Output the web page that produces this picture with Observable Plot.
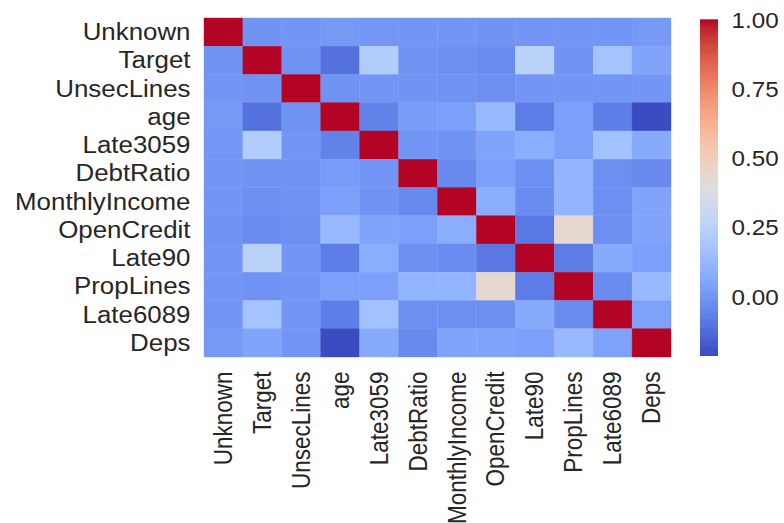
<!DOCTYPE html>
<html><head><meta charset="utf-8">
<script src="https://cdn.jsdelivr.net/npm/d3@7"></script>
<script src="https://cdn.jsdelivr.net/npm/@observablehq/plot@0.6"></script>
<style>
body{margin:0;background:#fff}
#wrap{position:relative;width:784px;height:523px;overflow:hidden;background:#fff}
#wrap svg{position:absolute;left:0;top:0}
</style>
</head><body><div id="wrap"></div>
<script>
const names = ["Unknown","Target","UnsecLines","age","Late3059","DebtRatio","MonthlyIncome","OpenCredit","Late90","PropLines","Late6089","Deps"];
const rowUnknown       = [1, -0.005, 0, 0.01, 0.005, 0, 0, -0.005, 0, 0, 0, 0.01];
const rowTarget        = [-0.005, 1, -0.01, -0.11, 0.22, -0.01, -0.02, -0.03, 0.25, -0.01, 0.17, 0.05];
const rowUnsecLines    = [0, -0.01, 1, -0.01, 0, -0.005, -0.01, -0.02, 0, 0, 0, 0];
const rowAge           = [0.01, -0.11, -0.01, 1, -0.06, 0.02, 0.03, 0.13, -0.08, 0.03, -0.07, -0.213];
const rowLate3059      = [0.005, 0.22, 0, -0.06, 1, 0, -0.005, 0.05, 0.08, 0.03, 0.16, 0.07];
const rowDebtRatio     = [0, -0.01, -0.005, 0.02, 0, 1, -0.04, 0.03, -0.02, 0.11, -0.02, -0.04];
const rowMonthlyIncome = [0, -0.02, -0.01, 0.03, -0.005, -0.04, 1, 0.08, -0.03, 0.11, -0.02, 0.05];
const rowOpenCredit    = [-0.005, -0.03, -0.02, 0.13, 0.05, 0.03, 0.08, 1, -0.09, 0.43, -0.02, 0.05];
const rowLate90        = [0, 0.25, 0, -0.08, 0.08, -0.02, -0.03, -0.09, 1, -0.08, 0.07, 0.03];
const rowPropLines     = [0, -0.01, 0, 0.03, 0.03, 0.11, 0.11, 0.43, -0.08, 1, -0.03, 0.13];
const rowLate6089      = [0, 0.17, 0, -0.07, 0.16, -0.02, -0.02, -0.02, 0.07, -0.03, 1, 0.04];
const rowDeps          = [0.01, 0.05, 0, -0.213, 0.07, -0.04, 0.05, 0.05, 0.03, 0.13, 0.04, 1];
const rows = [rowUnknown,rowTarget,rowUnsecLines,rowAge,rowLate3059,rowDebtRatio,rowMonthlyIncome,rowOpenCredit,rowLate90,rowPropLines,rowLate6089,rowDeps];
const colorbarTicks = [0, 0.25, 0.5, 0.75, 1];

// matplotlib "coolwarm" (Moreland) control colours
const coolwarm = ["rgb(59,76,192)","rgb(68,90,204)","rgb(77,104,215)","rgb(87,117,225)","rgb(98,130,234)","rgb(108,142,241)","rgb(119,154,247)","rgb(130,165,251)","rgb(141,176,254)","rgb(152,185,255)","rgb(163,194,255)","rgb(174,201,253)","rgb(184,208,249)","rgb(194,213,244)","rgb(204,217,238)","rgb(213,219,230)","rgb(221,221,221)","rgb(229,216,209)","rgb(236,211,197)","rgb(241,204,185)","rgb(245,196,173)","rgb(247,187,160)","rgb(247,177,148)","rgb(247,166,135)","rgb(244,154,123)","rgb(241,141,111)","rgb(236,127,99)","rgb(229,112,88)","rgb(222,96,77)","rgb(213,80,66)","rgb(203,62,56)","rgb(192,40,47)","rgb(180,4,38)"];

const cells = [];
rows.forEach((r, i) => r.forEach((v, j) => cells.push({row: names[i], col: names[j], value: v})));
const vmin = d3.min(cells, d => d.value);
const vmax = d3.max(cells, d => d.value);
const interp = d3.piecewise(d3.interpolateRgb, coolwarm);
const colorOpts = {type: "linear", domain: [vmin, vmax], interpolate: interp};

const font = '"Liberation Sans", Arial, Helvetica, sans-serif';
const ink = "#262626";

const heat = Plot.plot({
  width: 784, height: 523,
  marginLeft: 204, marginRight: 113, marginTop: 18, marginBottom: 166,
  style: {fontFamily: font, color: ink, background: "transparent", overflow: "visible"},
  x: {domain: names, padding: 0, round: false, label: null},
  y: {domain: names, padding: 0, round: false, label: null},
  color: colorOpts,
  marks: [
    Plot.cell(cells, {x: "col", y: "row", fill: "value", stroke: "value", strokeWidth: 0.4}),
    Plot.axisX({tickRotate: -90, tickSize: 0, tickPadding: 14, fontSize: 22.5, label: null}),
    Plot.axisY({tickSize: 0, tickPadding: 14, fontSize: 23, label: null})
  ]
});

// colour bar ramp (a gradient, not data)
const nSteps = 300;
const ramp = d3.range(nSteps).map(i => ({lo: vmin + (vmax - vmin) * i / nSteps, hi: vmin + (vmax - vmin) * (i + 1) / nSteps}));
const bar = Plot.plot({
  width: 784, height: 523,
  marginLeft: 700, marginRight: 66, marginTop: 20, marginBottom: 167,
  style: {fontFamily: font, color: ink, background: "transparent", overflow: "visible"},
  y: {domain: [vmin, vmax], label: null},
  color: colorOpts,
  marks: [
    Plot.rect(ramp, {y1: "lo", y2: d => d.hi + (vmax - vmin) / nSteps * 0.6, fill: "lo"}),
    Plot.axisY({anchor: "right", ticks: colorbarTicks, tickFormat: d3.format(".2f"), tickSize: 0, tickPadding: 13, fontSize: 22, label: null})
  ]
});

const wrap = document.getElementById("wrap");
wrap.appendChild(heat);
wrap.appendChild(bar);

// the reference's text is a little wider (horizontally) than the font's natural shape
function stretch(svg, sel, k) {
  svg.querySelectorAll(sel).forEach(t => {
    const L = t.getComputedTextLength();
    t.setAttribute("textLength", (L * k).toFixed(2));
    t.setAttribute("lengthAdjust", "spacingAndGlyphs");
  });
}
stretch(heat, 'g[aria-label="y-axis tick label"] text', 1.125);
stretch(bar, 'g[aria-label="y-axis tick label"] text', 1.1);
// rotated x labels: widen the glyphs along the screen's horizontal direction
heat.querySelectorAll('g[aria-label="x-axis tick label"] text').forEach(t => {
  const tr = t.getAttribute("transform") || "";
  t.setAttribute("transform", tr + " scale(1,1.12)");
});
</script>
</body></html>
